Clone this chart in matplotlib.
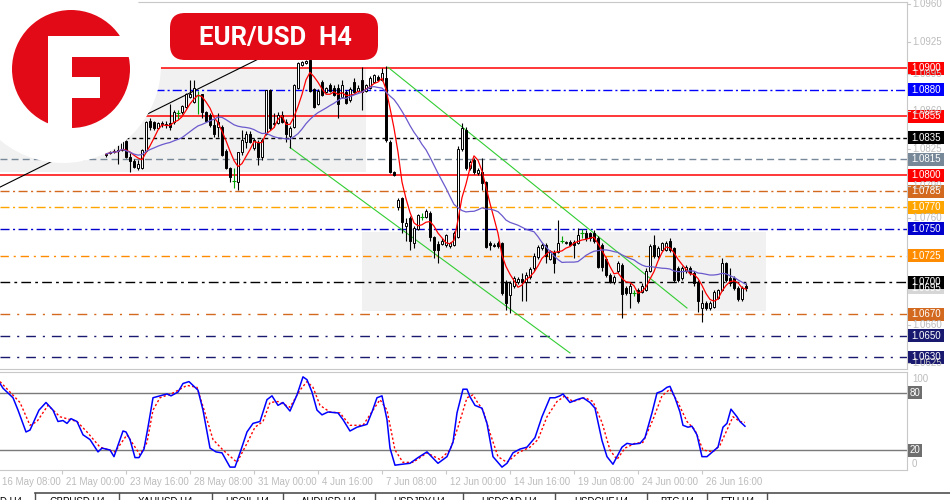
import numpy as np
import pandas as pd
import matplotlib
matplotlib.use('Agg')
import matplotlib.pyplot as plt
import matplotlib.transforms as mtransforms
from matplotlib.patches import Rectangle, Circle, FancyBboxPatch

plt.rcParams['font.family'] = ['Liberation Sans', 'DejaVu Sans']

# ---- EUR/USD H4 candles (bar index 27 .. 187, bar 0 = 16 May 08:00)
first_bar = 27
opens = [
    1.0819, 1.0821, 1.0822, 1.0823, 1.0824, 1.0832, 1.0817, 1.0813, 1.0807, 1.0807,
    1.0823, 1.0851, 1.0850, 1.0844, 1.0849, 1.0848, 1.0849, 1.0850, 1.0858, 1.0859,
    1.0864, 1.0873, 1.0869, 1.0875, 1.0876, 1.0859, 1.0856, 1.0847, 1.0845, 1.0845,
    1.0823, 1.0807, 1.0795, 1.0794, 1.0822, 1.0831, 1.0839, 1.0826, 1.0831, 1.0817,
    1.0839, 1.0880, 1.0848, 1.0849, 1.0856, 1.0850, 1.0837, 1.0845, 1.0882, 1.0903,
    1.0905, 1.0908, 1.0881, 1.0867, 1.0887, 1.0878, 1.0884, 1.0882, 1.0882, 1.0873,
    1.0878, 1.0870, 1.0887, 1.0879, 1.0889, 1.0879, 1.0882, 1.0887, 1.0892, 1.0889,
    1.0891, 1.0831, 1.0803, 1.0770, 1.0779, 1.0753, 1.0760, 1.0737, 1.0750, 1.0761,
    1.0761, 1.0765, 1.0742, 1.0736, 1.0736, 1.0735, 1.0734, 1.0735, 1.0742, 1.0825,
    1.0842, 1.0807, 1.0814, 1.0802, 1.0803, 1.0794, 1.0737, 1.0735, 1.0737, 1.0737,
    1.0700, 1.0688, 1.0697, 1.0700, 1.0703, 1.0700, 1.0705, 1.0713, 1.0724, 1.0732,
    1.0735, 1.0722, 1.0728, 1.0728, 1.0739, 1.0737, 1.0738, 1.0738, 1.0737, 1.0746,
    1.0746, 1.0746, 1.0746, 1.0741, 1.0735, 1.0722, 1.0707, 1.0700, 1.0711, 1.0716,
    1.0695, 1.0690, 1.0690, 1.0693, 1.0691, 1.0693, 1.0711, 1.0735, 1.0725, 1.0730,
    1.0730, 1.0739, 1.0732, 1.0713, 1.0704, 1.0711, 1.0713, 1.0709, 1.0700, 1.0676,
    1.0681, 1.0676, 1.0677, 1.0685, 1.0693, 1.0718, 1.0704, 1.0704, 1.0695, 1.0684,
    1.0697]
highs = [
    1.0821, 1.0823, 1.0825, 1.0828, 1.0834, 1.0833, 1.0821, 1.0815, 1.0814, 1.0825,
    1.0851, 1.0854, 1.0851, 1.0850, 1.0851, 1.0851, 1.0867, 1.0861, 1.0861, 1.0866,
    1.0877, 1.0889, 1.0889, 1.0879, 1.0876, 1.0860, 1.0858, 1.0853, 1.0858, 1.0847,
    1.0825, 1.0808, 1.0807, 1.0822, 1.0842, 1.0841, 1.0841, 1.0835, 1.0833, 1.0835,
    1.0880, 1.0881, 1.0858, 1.0859, 1.0860, 1.0853, 1.0846, 1.0885, 1.0906, 1.0907,
    1.0908, 1.0909, 1.0882, 1.0881, 1.0889, 1.0883, 1.0886, 1.0884, 1.0885, 1.0889,
    1.0880, 1.0883, 1.0891, 1.0884, 1.0901, 1.0885, 1.0893, 1.0895, 1.0894, 1.0900,
    1.0902, 1.0833, 1.0804, 1.0779, 1.0780, 1.0760, 1.0762, 1.0753, 1.0764, 1.0765,
    1.0769, 1.0767, 1.0743, 1.0739, 1.0741, 1.0745, 1.0738, 1.0748, 1.0827, 1.0849,
    1.0845, 1.0814, 1.0816, 1.0807, 1.0816, 1.0795, 1.0739, 1.0737, 1.0739, 1.0738,
    1.0702, 1.0701, 1.0706, 1.0705, 1.0709, 1.0710, 1.0714, 1.0727, 1.0735, 1.0737,
    1.0737, 1.0730, 1.0730, 1.0758, 1.0743, 1.0739, 1.0740, 1.0740, 1.0751, 1.0750,
    1.0749, 1.0747, 1.0749, 1.0743, 1.0737, 1.0724, 1.0709, 1.0707, 1.0720, 1.0718,
    1.0697, 1.0699, 1.0693, 1.0695, 1.0699, 1.0713, 1.0736, 1.0744, 1.0734, 1.0738,
    1.0739, 1.0741, 1.0733, 1.0715, 1.0715, 1.0716, 1.0715, 1.0711, 1.0702, 1.0693,
    1.0683, 1.0683, 1.0693, 1.0694, 1.0723, 1.0719, 1.0713, 1.0706, 1.0697, 1.0697,
    1.0699]
lows = [
    1.0817, 1.0820, 1.0821, 1.0811, 1.0823, 1.0816, 1.0803, 1.0807, 1.0805, 1.0806,
    1.0822, 1.0842, 1.0842, 1.0843, 1.0845, 1.0844, 1.0842, 1.0848, 1.0853, 1.0857,
    1.0863, 1.0872, 1.0868, 1.0857, 1.0854, 1.0850, 1.0845, 1.0836, 1.0836, 1.0818,
    1.0806, 1.0794, 1.0788, 1.0786, 1.0819, 1.0826, 1.0830, 1.0824, 1.0810, 1.0814,
    1.0838, 1.0842, 1.0845, 1.0848, 1.0849, 1.0831, 1.0826, 1.0844, 1.0881, 1.0902,
    1.0904, 1.0878, 1.0863, 1.0866, 1.0874, 1.0877, 1.0878, 1.0874, 1.0854, 1.0872,
    1.0867, 1.0869, 1.0877, 1.0878, 1.0861, 1.0878, 1.0881, 1.0886, 1.0888, 1.0888,
    1.0831, 1.0802, 1.0799, 1.0768, 1.0746, 1.0739, 1.0730, 1.0732, 1.0749, 1.0758,
    1.0760, 1.0739, 1.0723, 1.0718, 1.0735, 1.0733, 1.0732, 1.0734, 1.0741, 1.0823,
    1.0805, 1.0805, 1.0801, 1.0800, 1.0786, 1.0732, 1.0730, 1.0733, 1.0732, 1.0688,
    1.0674, 1.0671, 1.0695, 1.0698, 1.0683, 1.0683, 1.0703, 1.0711, 1.0722, 1.0730,
    1.0718, 1.0721, 1.0709, 1.0727, 1.0737, 1.0736, 1.0734, 1.0723, 1.0736, 1.0741,
    1.0739, 1.0739, 1.0737, 1.0713, 1.0711, 1.0705, 1.0699, 1.0698, 1.0709, 1.0667,
    1.0688, 1.0676, 1.0687, 1.0681, 1.0690, 1.0692, 1.0710, 1.0723, 1.0723, 1.0729,
    1.0729, 1.0728, 1.0700, 1.0700, 1.0702, 1.0709, 1.0707, 1.0697, 1.0672, 1.0663,
    1.0674, 1.0674, 1.0676, 1.0684, 1.0692, 1.0700, 1.0697, 1.0693, 1.0683, 1.0683,
    1.0692]
closes = [
    1.0820, 1.0822, 1.0823, 1.0824, 1.0832, 1.0817, 1.0813, 1.0808, 1.0811, 1.0824,
    1.0850, 1.0845, 1.0844, 1.0849, 1.0848, 1.0847, 1.0845, 1.0859, 1.0858, 1.0865,
    1.0876, 1.0876, 1.0882, 1.0875, 1.0859, 1.0851, 1.0847, 1.0839, 1.0850, 1.0819,
    1.0807, 1.0798, 1.0795, 1.0822, 1.0833, 1.0839, 1.0831, 1.0833, 1.0817, 1.0833,
    1.0880, 1.0844, 1.0849, 1.0856, 1.0850, 1.0839, 1.0844, 1.0884, 1.0905, 1.0906,
    1.0907, 1.0879, 1.0864, 1.0879, 1.0875, 1.0882, 1.0879, 1.0875, 1.0867, 1.0884,
    1.0868, 1.0881, 1.0878, 1.0882, 1.0878, 1.0884, 1.0891, 1.0894, 1.0889, 1.0896,
    1.0833, 1.0803, 1.0800, 1.0777, 1.0756, 1.0755, 1.0739, 1.0751, 1.0763, 1.0761,
    1.0767, 1.0742, 1.0730, 1.0730, 1.0739, 1.0744, 1.0737, 1.0746, 1.0825, 1.0844,
    1.0807, 1.0812, 1.0803, 1.0805, 1.0793, 1.0733, 1.0735, 1.0734, 1.0734, 1.0690,
    1.0681, 1.0699, 1.0704, 1.0703, 1.0700, 1.0707, 1.0712, 1.0725, 1.0733, 1.0735,
    1.0725, 1.0728, 1.0718, 1.0737, 1.0739, 1.0738, 1.0735, 1.0735, 1.0744, 1.0746,
    1.0741, 1.0741, 1.0739, 1.0714, 1.0714, 1.0707, 1.0700, 1.0705, 1.0718, 1.0689,
    1.0690, 1.0697, 1.0690, 1.0683, 1.0697, 1.0711, 1.0734, 1.0725, 1.0732, 1.0737,
    1.0737, 1.0730, 1.0702, 1.0702, 1.0713, 1.0714, 1.0709, 1.0699, 1.0683, 1.0681,
    1.0676, 1.0681, 1.0691, 1.0693, 1.0718, 1.0702, 1.0699, 1.0695, 1.0684, 1.0695,
    1.0695]

# ---- stochastic (%K and signal)
stoch_k_bar = [0.5, 1.25, 3.75, 5, 7, 8, 10.25, 12, 13.75, 15, 16.25, 17.25, 18.25, 19.75,
               21.25, 23, 25, 26, 28, 29, 30, 31.25, 32, 33, 34.25, 35.25, 36.5, 37.5,
               38.75, 40.5, 42.25, 43.25, 45, 46.25, 47.75, 50, 51.25, 53, 54.5, 56, 58,
               59.25, 60.5, 62.25, 63.75, 65.5, 67.25, 68.5, 70, 71.25, 73, 74.75, 76.25,
               77.25, 78.5, 79.75, 81, 82.5, 85, 86.25, 88, 89.75, 92.25, 93.5, 94.75, 96,
               97.25, 98, 99.25, 101, 103, 105, 107.25, 110, 112.25, 113.75, 114.75,
               116.25, 117.25, 118, 119.25, 121, 122.25, 123.75, 126, 127.25, 128.75,
               130.5, 132.25, 134.25, 136, 138, 139.25, 140.5, 141.25, 143, 144.75,
               146.25, 148, 149.25, 151, 152.25, 153.75, 156, 157.25, 158.5, 160.5,
               161.75, 163.5, 164.75, 166, 167.25, 168, 169.25, 170.5, 171.25, 172.5,
               173.5, 174.75, 176, 177.25, 180, 181.25, 182.25, 183.25, 184.75, 185.5,
               186.75]
stoch_k = [90, 85, 75, 62, 39, 41, 62, 70, 62, 50, 51, 48, 53, 50,
           36, 31, 18, 22, 20, 13, 25, 40, 39, 31, 12, 12, 21, 44,
           75, 77, 79, 77, 81, 90, 92, 83, 62, 22, 18, 17, 2,
           2, 17, 39, 48, 50, 73, 77, 67, 70, 61, 78, 97,
           94, 81, 62, 57, 60, 59, 52, 40, 44, 47, 60, 75, 77,
           52, 22, 4, 5, 6, 12, 18, 6, 13, 28, 59,
           84, 84, 76, 67, 64, 48, 13, 2, 6, 17,
           21, 23, 33, 55, 75, 75, 77, 79, 70, 73,
           75, 70, 64, 30, 13, 5, 23, 27, 26, 27,
           33, 59, 80, 82, 86, 87, 75, 60, 46, 44,
           45, 36, 13, 13, 23, 44, 48, 63, 55, 50,
           45]
stoch_d_bar = [0.5, 3, 5.5, 8, 9.75, 12.5, 15.5, 19.75, 22.25, 25.5, 29.25, 32.25, 35.5,
               37.25, 38.75, 40.5, 43.75, 47.25, 49.75, 51.75, 53.75, 56.25, 59.75, 62.25,
               64.25, 66.25, 68, 70, 73, 75.5, 77.25, 78.75, 80.5, 83, 85.5, 88, 91.25,
               95.5, 97.25, 99.25, 101.25, 103.75, 107.25, 110.5, 113, 115, 117.25,
               118.75, 119.75, 121.25, 123, 125, 127.25, 130, 133, 135, 137.25, 139.75,
               141.75, 143.75, 146.75, 148.75, 151, 153, 154.75, 156.75, 159.25, 161.25,
               163.75, 166, 168, 170, 172.25, 174.25, 176.25, 178.75, 180.5, 182.25,
               183.75, 185.5, 186.75]
stoch_d = [92, 81, 70, 46, 50, 67, 55, 50, 39, 23, 18, 36, 15,
           28, 62, 75, 80, 88, 86, 59, 31, 20, 7, 27,
           44, 50, 70, 71, 65, 83, 92, 86, 67, 60, 59, 46, 46,
           73, 62, 20, 7, 7, 17, 10, 20, 44, 75,
           78, 71, 62, 38, 13, 7, 17, 23, 31, 55, 71,
           77, 71, 75, 71, 49, 20, 10, 22, 27, 28,
           52, 77, 84, 70, 50, 41, 20, 18, 25, 41,
           55, 50, 49]

# ---- horizontal levels and their label colours
level_prices = [1.0900, 1.0880, 1.0855, 1.0835, 1.0815, 1.0800, 1.0785,
                1.0770, 1.0750, 1.0725, 1.0700, 1.0670, 1.0650, 1.0630]
level_colors = ['#ff0000', '#0000ff', '#ff0000', '#000000', '#778899', '#ff0000', '#d2691e',
                '#ffa500', '#0000cd', '#ff8c00', '#000000', '#d2691e', '#191970', '#191970']
axis_prices = [1.0960, 1.0925, 1.0895, 1.0860, 1.0825, 1.0790, 1.0760, 1.0660, 1.0625]

# trend lines: (bar, price) pairs
trend_black = [(0.5, 1.0789), (75.5, 1.0928)]
channel_upper = [(97.5, 1.0901), (172.25, 1.0676)]
channel_lower = [(73.0, 1.0826), (143.0, 1.0634)]
# shaded zones: (bar_from, bar_to, price_low, price_high)
zones = [(0.5, 92.0, 1.0803, 1.0900), (91.0, 192.0, 1.0673, 1.0747)]

tick_bars = [0, 16, 32, 48, 64, 80, 96, 112, 128, 144, 160, 176]
tick_labels = ['16 May 08:00', '21 May 00:00', '23 May 16:00', '28 May 08:00',
               '31 May 00:00', '4 Jun 16:00', '7 Jun 08:00', '12 Jun 00:00',
               '14 Jun 16:00', '19 Jun 08:00', '24 Jun 00:00', '26 Jun 16:00']
tabs = ['GBPUSD,H4', 'XAUUSD,H4', 'USOIL,H4', 'AUDUSD,H4', 'USDJPY,H4',
        'USDCAD,H4', 'USDCHF,H4', 'BTC,H4', 'ETH,H4']

RED = '#e20a17'
AXIS_GRAY = '#c8c8c8'
LABEL_GRAY = '#bcbcbc'

fig = plt.figure(figsize=(9.5, 5), dpi=100)
fig.patch.set_facecolor('white')
ax = fig.add_axes([0, 0.262, 0.9547, 0.734])
ax_s = fig.add_axes([0, 0.06, 0.9547, 0.196])

for a in (ax, ax_s):
    a.set_xlim(0.5, 227.25)
    a.spines['left'].set_visible(False)
    for s in ('top', 'right', 'bottom'):
        a.spines[s].set_color(AXIS_GRAY)
        a.spines[s].set_linewidth(0.8)
    a.set_yticks([])
ax.set_ylim(1.0619, 1.0962)
ax.set_xticks([])

# zones
for x0, x1, p0, p1 in zones:
    ax.add_patch(Rectangle((x0, p0), x1 - x0, p1 - p0, fc='#f1f1f1', ec='none', zorder=0))

# level lines
dash_styles = ['-', (0, (6.5, 2.2, 1.5, 2.2)), '-', (0, (2.8, 2.2)), (0, (5, 3)), '-',
               (0, (6.5, 2.5, 1.5, 2.5)), (0, (6.5, 2.5, 1.5, 2.5)), (0, (6.5, 2.5, 1.5, 2.5)),
               (0, (6, 3.5, 1.5, 3.5)), (0, (7, 3, 2, 3)), (0, (7, 5, 1.5, 5)),
               (0, (7, 5, 1.5, 5)), (0, (7, 5, 1.5, 5))]
for p, col, ls in zip(level_prices, level_colors, dash_styles):
    ax.axhline(p, color=col, lw=1.1 if ls == '-' else 1.0, ls=ls, zorder=1)

# trend lines
for pts, col in ((trend_black, 'black'), (channel_upper, '#32cd32'), (channel_lower, '#32cd32')):
    xs, ys = zip(*pts)
    ax.plot(xs, ys, color=col, lw=0.8, zorder=2)

# candles
idx = np.arange(first_bar, first_bar + len(closes))
o, h, l, c = map(np.array, (opens, highs, lows, closes))
up, dn, dj = c > o, c < o, np.isclose(c, o)
up &= ~dj
dn &= ~dj
ax.vlines(idx[~dj], l[~dj], h[~dj], color='black', lw=0.8, zorder=3)
ax.bar(idx[up], c[up] - o[up], bottom=o[up], width=0.7, color='white',
       edgecolor='black', lw=0.7, zorder=4)
ax.bar(idx[dn], o[dn] - c[dn], bottom=c[dn], width=0.7, color='black',
       edgecolor='black', lw=0.7, zorder=4)
ax.vlines(idx[dj], l[dj], h[dj], color='#00a000', lw=0.8, zorder=3)
ax.hlines(o[dj], idx[dj] - 0.45, idx[dj] + 0.45, color='#00a000', lw=0.8, zorder=4)

# moving averages
close_s = pd.Series(c, index=idx)
ax.plot(idx, close_s.rolling(5, min_periods=1).mean(), color='#ff0000', lw=0.9, zorder=5)
ax.plot(idx, close_s.rolling(20, min_periods=1).mean(), color='#6a5acd', lw=0.9, zorder=5)

# stochastic panel
ax_s.set_ylim(-1.05, 102.1)
ax_s.axhline(80, color='#7a7a7a', lw=1.0)
ax_s.axhline(20, color='#7a7a7a', lw=1.0)
ax_s.plot(stoch_k_bar, stoch_k, color='#0000ff', lw=1.1, zorder=3)
ax_s.plot(stoch_d_bar, stoch_d, color='#ff0000', lw=1.0, ls=(0, (1.6, 1.6)), zorder=2)
ax_s.set_xticks(tick_bars[1:])
ax_s.set_xticklabels([])
ax_s.tick_params(axis='x', direction='out', length=3, color=AXIS_GRAY)
xlab_tf = mtransforms.blended_transform_factory(ax_s.transData, ax_s.transAxes)
for b, t in zip(tick_bars, tick_labels):
    ax_s.text(b + 0.9, -0.125, t, transform=xlab_tf, ha='left', va='center',
              fontsize=7, color=LABEL_GRAY, clip_on=False)

# overlay in pixel coordinates for labels, logo and title
ov = fig.add_axes([0, 0, 1, 1], zorder=10)
ov.set_xlim(0, 950)
ov.set_ylim(500, 0)
ov.axis('off')
ov.patch.set_alpha(0)


def price_px(p):
    return 500 - ax.transData.transform((1, p))[1]


def stoch_px(v):
    return 500 - ax_s.transData.transform((1, v))[1]


for p in axis_prices:
    y = price_px(p)
    ov.plot([907, 910], [y, y], color=AXIS_GRAY, lw=0.8)
    ov.text(912, y, f'{p:.4f}', ha='left', va='center', fontsize=7, color=LABEL_GRAY)

# bid price box
yb = price_px(closes[-1])
ov.add_patch(Rectangle((908, yb - 6.5), 36, 13, fc='#d6d6d6', ec='none'))
ov.text(926, yb, f'{closes[-1]:.4f}', ha='center', va='center', fontsize=7, color='white')

for p, col in zip(level_prices, level_colors):
    y = price_px(p)
    ov.add_patch(Rectangle((908, y - 6.5), 36, 13, fc=col, ec='none'))
    ov.text(926, y, f'{p:.4f}', ha='center', va='center', fontsize=7, color='white')

ov.text(912, stoch_px(100), '100', ha='left', va='top', fontsize=7, color=LABEL_GRAY)
ov.text(912, stoch_px(0), '0', ha='left', va='bottom', fontsize=7, color=LABEL_GRAY)
for v in (80, 20):
    y = stoch_px(v)
    ov.add_patch(Rectangle((908, y - 6.5), 14, 13, fc='#6e6e6e', ec='none'))
    ov.text(915, y, str(v), ha='center', va='center', fontsize=7, color='white')

# terminal tab strip at the bottom edge
ov.plot([35, 950], [493, 493], color='#505050', lw=1.2)
seps = [35, 119, 212, 283, 375, 463, 555, 647, 707, 767]
for s in seps:
    ov.plot([s, s], [493, 500], color='#505050', lw=1.0)
ov.text(22, 496, 'EURUSD,H4', ha='right', va='top', fontsize=7, color='black')
for a, b, t in zip(seps[:-1], seps[1:], tabs):
    ov.text((a + b) / 2, 496, t, ha='center', va='top', fontsize=7, color='black')

# logo
ov.add_patch(Circle((63, 65), 98, fc='white', ec='none', zorder=20))
ov.add_patch(Circle((71, 69), 59, fc=RED, ec='none', zorder=21))
ov.add_patch(Rectangle((48, 36), 24, 95, fc='white', ec='none', zorder=22))
ov.add_patch(Rectangle((48, 36), 95, 21, fc='white', ec='none', zorder=22))
ov.add_patch(Rectangle((48, 77), 52, 21, fc='white', ec='none', zorder=22))

# title badge
ov.add_patch(FancyBboxPatch((170, 13), 208, 47, boxstyle='round,pad=0,rounding_size=15',
                            fc=RED, ec='none', zorder=20))
ov.text(275, 37.5, 'EUR/USD  H4', ha='center', va='center', fontsize=18.5,
        fontweight='bold', family=['Roboto', 'DejaVu Sans'], color='white', zorder=21)

fig.savefig('out.png', dpi=100, facecolor='white')
